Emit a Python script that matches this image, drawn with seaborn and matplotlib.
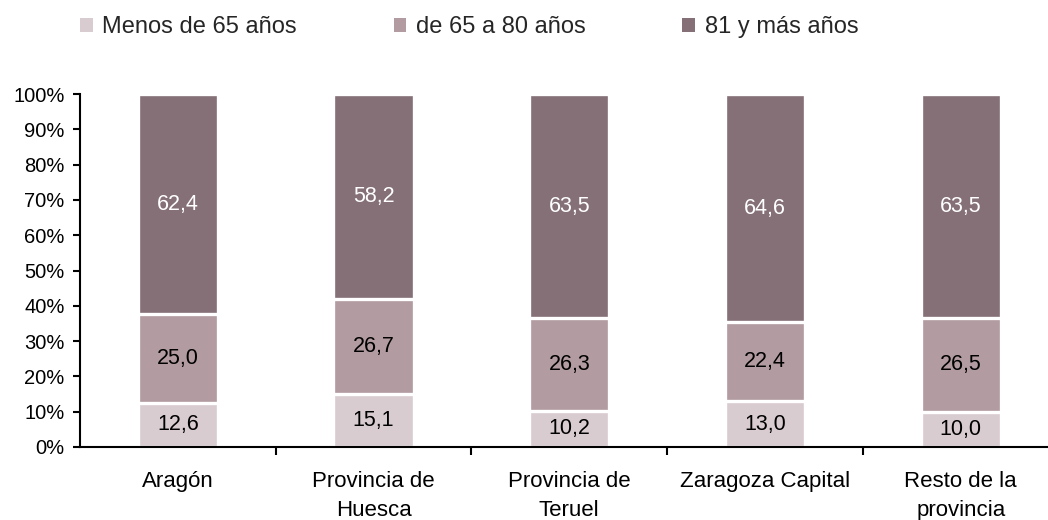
import numpy as np
import pandas as pd
import matplotlib
matplotlib.use("Agg")
import matplotlib.pyplot as plt
from matplotlib.patches import Patch
import seaborn as sns

# Age distribution (%) by territory
categories = ["Aragón", "Provincia de\nHuesca", "Provincia de\nTeruel",
              "Zaragoza Capital", "Resto de la\nprovincia"]
menos_65 = [12.6, 15.1, 10.2, 13.0, 10.0]
de_65_80 = [25.0, 26.7, 26.3, 22.4, 26.5]
mas_81 = [62.4, 58.2, 63.5, 64.6, 63.5]
series_names = ["Menos de 65 años", "de 65 a 80 años", "81 y más años"]
colors = ["#D9CCD1", "#B29BA1", "#857077"]
y_ticks = [0, 10, 20, 30, 40, 50, 60, 70, 80, 90, 100]

sns.set_theme(style="white")
plt.rcParams["font.family"] = ["Liberation Sans", "DejaVu Sans"]

df = pd.DataFrame({"cat": categories, "s1": menos_65, "s2": de_65_80, "s3": mas_81})
df["c1"] = df["s1"]
df["c2"] = df["s1"] + df["s2"]
df["c3"] = df["s1"] + df["s2"] + df["s3"]

fig = plt.figure(figsize=(10.48, 5.2), dpi=100)
ax = fig.add_axes([0.0763, 0.1404, 0.9237, 0.6788])

# stacked bars drawn from the tallest cumulative layer down
for col, color in zip(["c3", "c2", "c1"], colors[::-1]):
    sns.barplot(data=df, x="cat", y=col, color=color, width=0.41,
                edgecolor="white", linewidth=2.4, saturation=1, ax=ax)

# value labels centred in each segment
for i in range(len(categories)):
    bottoms = [0, df["c1"][i], df["c2"][i]]
    vals = [df["s1"][i], df["s2"][i], df["s3"][i]]
    for k, (b, v) in enumerate(zip(bottoms, vals)):
        ax.text(i, b + v / 2, f"{v:.1f}".replace(".", ","),
                ha="center", va="center", fontsize=15.5,
                color="white" if k == 2 else "black")

ax.set_xlim(-0.5, 4.446)
ax.set_ylim(0, 100)
ax.set_xlabel("")
ax.set_ylabel("")

ax.set_yticks(y_ticks)
ax.set_yticklabels([f"{t}%" for t in y_ticks])
ax.tick_params(axis="y", direction="out", length=5, width=1.5, pad=6,
               labelsize=14.5, left=True, colors="black")

# category labels on major ticks, separators on minor ticks
ax.set_xticks(np.arange(len(categories)))
ax.set_xticklabels(categories, linespacing=1.55)
ax.tick_params(axis="x", which="major", direction="out", length=0, pad=17,
               labelsize=16, colors="black")
ax.set_xticks(np.arange(len(categories) - 1) + 0.5, minor=True)
ax.tick_params(axis="x", which="minor", direction="out", length=6, width=1.5,
               bottom=True, color="black")

for side in ["top", "right"]:
    ax.spines[side].set_visible(False)
for side in ["left", "bottom"]:
    ax.spines[side].set_linewidth(1.5)
    ax.spines[side].set_color("black")
    ax.spines[side].set_zorder(5)

handles = [Patch(facecolor=c, edgecolor="none") for c in colors]
fig.legend(handles, series_names, loc="center left",
           bbox_to_anchor=(0.076, 0.948), ncol=3, frameon=False,
           fontsize=17, handlelength=0.55, handleheight=0.52,
           handletextpad=0.4, columnspacing=4.1, borderpad=0, borderaxespad=0)

fig.savefig("out.png", dpi=100)
